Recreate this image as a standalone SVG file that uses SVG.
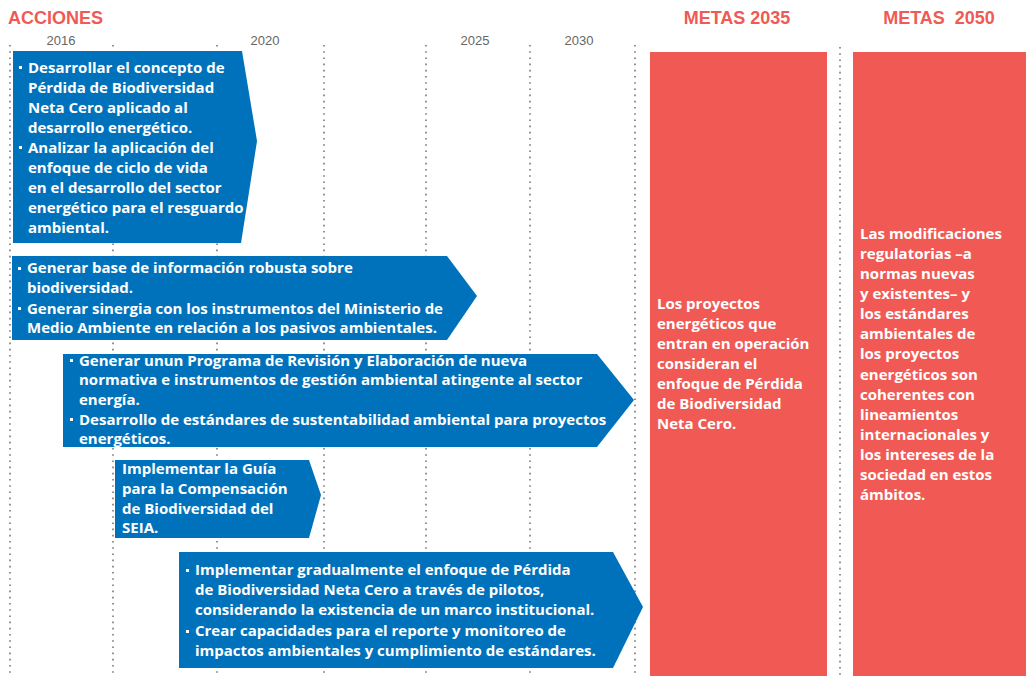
<svg xmlns="http://www.w3.org/2000/svg" width="1026" height="689" viewBox="0 0 1026 689">
<style>
.title{font-family:"Liberation Sans",Arial,sans-serif;font-weight:bold;font-size:18px;fill:#F05A55}
.year{font-family:"Liberation Sans",Arial,sans-serif;font-size:13px;fill:#666666}
.dot{stroke:#777777;stroke-width:1.6;stroke-dasharray:1.6 4.6;fill:none}
.blue{fill:#0072BC}
.red{fill:#F15A54}
.t{font-family:"Open Sans",Lato,sans-serif;font-weight:bold;font-size:15px;fill:#ffffff}
.b{fill:#ffffff}
</style>
<rect width="1026" height="689" fill="#ffffff"/>
<g id="headers">
<text class="title" x="8" y="24">ACCIONES</text>
<text class="title" x="737" y="24" text-anchor="middle">METAS 2035</text>
<text class="title" x="939" y="24" text-anchor="middle" xml:space="preserve">METAS  2050</text>
<text class="year" x="61" y="45" text-anchor="middle">2016</text>
<text class="year" x="265" y="45" text-anchor="middle">2020</text>
<text class="year" x="475" y="45" text-anchor="middle">2025</text>
<text class="year" x="579" y="45" text-anchor="middle">2030</text>
</g>
<g id="gridlines">
<line class="dot" x1="10" y1="45" x2="10" y2="676"/>
<line class="dot" x1="113" y1="45" x2="113" y2="676"/>
<line class="dot" x1="217" y1="45" x2="217" y2="676"/>
<line class="dot" x1="324" y1="45" x2="324" y2="676"/>
<line class="dot" x1="426" y1="45" x2="426" y2="676"/>
<line class="dot" x1="530" y1="45" x2="530" y2="676"/>
<line class="dot" x1="635" y1="45" x2="635" y2="676"/>
<line class="dot" x1="840" y1="47" x2="840" y2="676"/>
</g>
<g id="action1">
<polygon class="blue" points="13,51 242,51 257,141 241,243 13,243"/>
<rect class="b" x="19" y="66" width="3" height="3"/>
<rect class="b" x="19" y="146" width="3" height="3"/>
<text class="t" x="28" y="73">Desarrollar el concepto de</text>
<text class="t" x="28" y="93">Pérdida de Biodiversidad</text>
<text class="t" x="28" y="113">Neta Cero aplicado al</text>
<text class="t" x="28" y="133">desarrollo energético.</text>
<text class="t" x="28" y="153">Analizar la aplicación del</text>
<text class="t" x="28" y="173">enfoque de ciclo de vida</text>
<text class="t" x="28" y="193">en el desarrollo del sector</text>
<text class="t" x="28" y="213">energético para el resguardo</text>
<text class="t" x="28" y="233">ambiental.</text>
</g>
<g id="action2">
<polygon class="blue" points="12,256 447,256 477,296 447,340 12,340"/>
<rect class="b" x="18" y="267" width="3" height="3"/>
<rect class="b" x="18" y="307" width="3" height="3"/>
<text class="t" x="27" y="273">Generar base de información robusta sobre</text>
<text class="t" x="27" y="293">biodiversidad.</text>
<text class="t" x="27" y="314">Generar sinergia con los instrumentos del Ministerio de</text>
<text class="t" x="27" y="333">Medio Ambiente en relación a los pasivos ambientales.</text>
</g>
<g id="action3">
<polygon class="blue" points="63,354 597,354 634,400 597,447 63,447"/>
<rect class="b" x="70" y="359" width="3" height="3"/>
<rect class="b" x="70" y="418" width="3" height="3"/>
<text class="t" x="79" y="366">Generar unun Programa de Revisión y Elaboración de nueva</text>
<text class="t" x="79" y="385">normativa e instrumentos de gestión ambiental atingente al sector</text>
<text class="t" x="79" y="405">energía.</text>
<text class="t" x="79" y="425">Desarrollo de estándares de sustentabilidad ambiental para proyectos</text>
<text class="t" x="79" y="444">energéticos.</text>
</g>
<g id="action4">
<polygon class="blue" points="115,460 309,460 321,495 309,538 115,538"/>
<text class="t" x="122" y="474">Implementar la Guía</text>
<text class="t" x="122" y="494">para la Compensación</text>
<text class="t" x="122" y="514">de Biodiversidad del</text>
<text class="t" x="122" y="533">SEIA.</text>
</g>
<g id="action5">
<polygon class="blue" points="179,552 613,552 643,607 613,668 179,668"/>
<rect class="b" x="186" y="569" width="3" height="3"/>
<rect class="b" x="186" y="630" width="3" height="3"/>
<text class="t" x="195" y="575">Implementar gradualmente el enfoque de Pérdida</text>
<text class="t" x="195" y="595">de Biodiversidad Neta Cero a través de pilotos,</text>
<text class="t" x="195" y="615">considerando la existencia de un marco institucional.</text>
<text class="t" x="195" y="636">Crear capacidades para el reporte y monitoreo de</text>
<text class="t" x="195" y="656">impactos ambientales y cumplimiento de estándares.</text>
</g>
<g id="meta2035">
<rect class="red" x="650" y="52" width="177" height="624"/>
<text class="t" x="657" y="309">Los proyectos</text>
<text class="t" x="657" y="329">energéticos que</text>
<text class="t" x="657" y="349">entran en operación</text>
<text class="t" x="657" y="369">consideran el</text>
<text class="t" x="657" y="389">enfoque de Pérdida</text>
<text class="t" x="657" y="409">de Biodiversidad</text>
<text class="t" x="657" y="429">Neta Cero.</text>
</g>
<g id="meta2050">
<rect class="red" x="853" y="52" width="173" height="624"/>
<text class="t" x="860" y="239">Las modificaciones</text>
<text class="t" x="860" y="259">regulatorias –a</text>
<text class="t" x="860" y="279">normas nuevas</text>
<text class="t" x="860" y="299">y existentes– y</text>
<text class="t" x="860" y="319">los estándares</text>
<text class="t" x="860" y="339">ambientales de</text>
<text class="t" x="860" y="359">los proyectos</text>
<text class="t" x="860" y="380">energéticos son</text>
<text class="t" x="860" y="400">coherentes con</text>
<text class="t" x="860" y="420">lineamientos</text>
<text class="t" x="860" y="440">internacionales y</text>
<text class="t" x="860" y="460">los intereses de la</text>
<text class="t" x="860" y="480">sociedad en estos</text>
<text class="t" x="860" y="500">ámbitos.</text>
</g>
</svg>
